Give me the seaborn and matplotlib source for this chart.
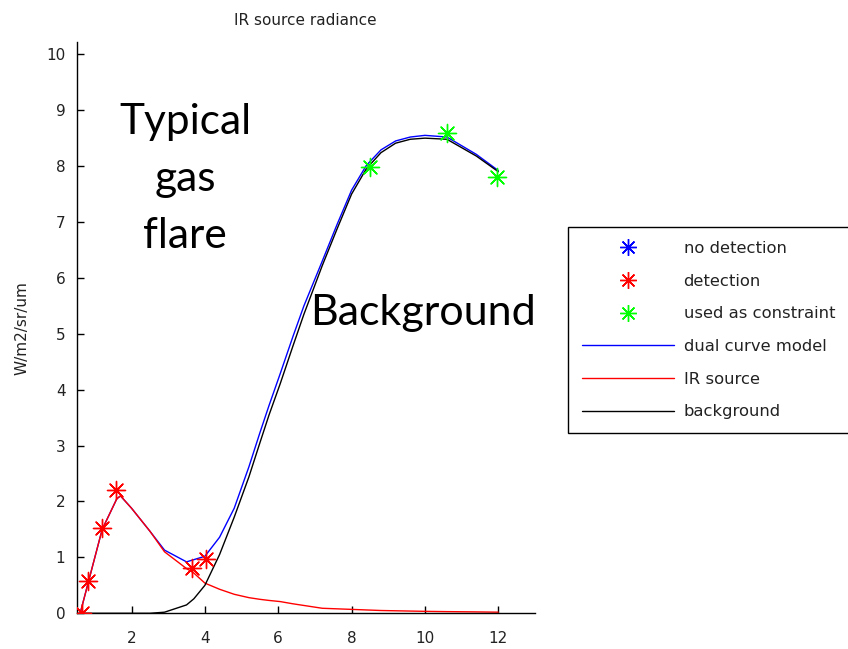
import matplotlib
matplotlib.use("Agg")
import matplotlib.pyplot as plt
from matplotlib.lines import Line2D
import seaborn as sns

# ---- data ----
wavelength = [0.6, 0.8, 1.2, 1.6, 1.7, 2.0, 2.5, 2.9, 3.5, 3.7, 4.0, 4.4, 4.8, 5.2, 5.5,
              5.75, 6.05, 6.4, 6.7, 7.2, 7.6, 8.0, 8.4, 8.8, 9.2, 9.6, 10.0, 10.6, 11.4, 12.0]
ir_source = [0.0, 0.5, 1.5, 2.05, 2.1, 1.88, 1.47, 1.1, 0.8, 0.72, 0.54, 0.43, 0.34, 0.28, 0.25,
             0.23, 0.21, 0.17, 0.14, 0.09, 0.08, 0.07, 0.06, 0.05, 0.045, 0.04, 0.035, 0.03, 0.025, 0.02]
background = [0.0, 0.0, 0.0, 0.0, 0.0, 0.0, 0.0, 0.02, 0.15, 0.26, 0.5, 1.05, 1.72, 2.44, 3.05,
              3.55, 4.1, 4.78, 5.35, 6.22, 6.87, 7.5, 7.95, 8.24, 8.41, 8.48, 8.5, 8.48, 8.18, 7.9]
dual_model = [0.0, 0.5, 1.5, 2.05, 2.1, 1.88, 1.47, 1.13, 0.92, 0.96, 1.02, 1.36, 1.88, 2.62, 3.23,
              3.72, 4.28, 4.95, 5.5, 6.3, 6.95, 7.57, 8.01, 8.29, 8.45, 8.52, 8.55, 8.52, 8.21, 7.92]

detect_x = [0.64, 0.82, 1.19, 1.57, 3.66, 4.02]
detect_y = [0.0, 0.57, 1.53, 2.21, 0.81, 0.97]
nodetect_x = []
nodetect_y = []
constraint_x = [8.5, 10.6, 11.97]
constraint_y = [7.99, 8.59, 7.80]

title = "IR source radiance"
ylabel = "W/m2/sr/um"
xticks = [2, 4, 6, 8, 10, 12]
yticks = [0, 1, 2, 3, 4, 5, 6, 7, 8, 9, 10]
legend_labels = ["no detection", "detection", "used as constraint",
                 "dual curve model", "IR source", "background"]

# ---- figure ----
sns.set_theme(style="white")
plt.rcParams["font.family"] = ["DejaVu Sans"]

W, H = 848, 649
fig = plt.figure(figsize=(W / 100, H / 100), dpi=100)
ax = fig.add_axes([76.5 / W, 1 - 613.3 / H, (535 - 76.5) / W, (613.3 - 42) / H])

star = (8, 2, 0)
sns.lineplot(x=wavelength, y=dual_model, color="#0000ff", lw=1.0, ax=ax, sort=False, estimator=None)
sns.lineplot(x=wavelength, y=ir_source, color="#ff0000", lw=1.0, ax=ax, sort=False, estimator=None)
sns.lineplot(x=wavelength, y=background, color="#000000", lw=1.0, ax=ax, sort=False, estimator=None)

for xs, ys, c in [(nodetect_x, nodetect_y, "#0000ff"),
                  (detect_x, detect_y, "#ff0000"),
                  (constraint_x, constraint_y, "#00ff00")]:
    if len(xs):
        sns.scatterplot(x=xs, y=ys, marker=star, s=170, color=c, edgecolor=c,
                        linewidth=1.0, ax=ax, zorder=5)
        ax.plot(xs, ys, "o", ms=3, color=c, zorder=6)

ax.set_xlim(0.5, 13.0)
ax.set_ylim(0, 10.22)
ax.set_xticks(xticks)
ax.set_yticks(yticks)
ax.tick_params(direction="in", length=5, width=1, colors="black", labelsize=11,
               bottom=True, left=True)
ax.tick_params(axis="x", pad=13)
ax.tick_params(axis="y", pad=8)
for lab in ax.get_xticklabels() + ax.get_yticklabels():
    lab.set_color("#222222")
for s in ["top", "right"]:
    ax.spines[s].set_visible(False)
for s in ["left", "bottom"]:
    ax.spines[s].set_color("black")
    ax.spines[s].set_linewidth(1.0)
ax.set_title(title, fontsize=11, pad=12, color="#222222")
ax.set_ylabel(ylabel, fontsize=11, labelpad=12, color="#222222")

# annotations
fig.text(185 / W, 1 - 179 / H, "Typical\ngas\nflare", ha="center", va="center",
         fontsize=30.5, family=["Lato", "DejaVu Sans"], linespacing=1.6, color="black")
fig.text(423 / W, 1 - 313 / H, "Background", ha="center", va="center",
         fontsize=31, family=["Lato", "DejaVu Sans"], color="black")

handles = [
    Line2D([], [], marker=star, color="#0000ff", linestyle="none", markersize=12, mew=1.0),
    Line2D([], [], marker=star, color="#ff0000", linestyle="none", markersize=12, mew=1.0),
    Line2D([], [], marker=star, color="#00ff00", linestyle="none", markersize=12, mew=1.0),
    Line2D([], [], color="#0000ff", lw=1.0),
    Line2D([], [], color="#ff0000", lw=1.0),
    Line2D([], [], color="#000000", lw=1.0),
]
leg = fig.legend(handles, legend_labels, loc="upper left",
                 bbox_to_anchor=(568 / W, 1 - 227 / H), bbox_transform=fig.transFigure,
                 frameon=True, fancybox=False, shadow=False, fontsize=11.8,
                 handlelength=5.6, handletextpad=0.6, borderpad=0.85, labelspacing=1.08,
                 borderaxespad=0, numpoints=1)
leg.get_frame().set_edgecolor("black")
leg.get_frame().set_linewidth(1.0)
leg.get_frame().set_alpha(1)
for t in leg.get_texts():
    t.set_color("#222222")

fig.savefig("out.png", dpi=100)
